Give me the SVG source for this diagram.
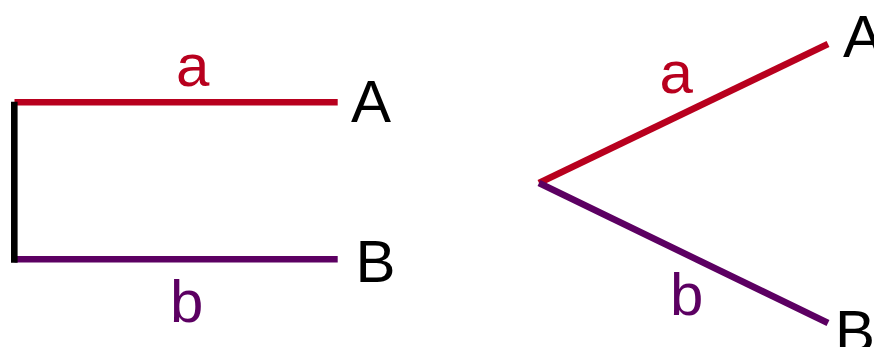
<svg xmlns="http://www.w3.org/2000/svg" width="874" height="347" viewBox="0 0 874 347">
<style>
.t{font-family:"Liberation Sans",Arial,sans-serif;font-size:60px}
.ra{stroke:#b8001e;fill:none;stroke-width:6.6}
.pb{stroke:#5c0062;fill:none;stroke-width:6.6}
.k{stroke:#000;fill:none;stroke-width:6.6}
</style>
<rect width="874" height="347" fill="#fff"/>
<g id="connectors">
<line class="ra" x1="14.5" y1="102.3" x2="337.7" y2="102.3"/>
<line class="pb" x1="14.5" y1="259.2" x2="337.7" y2="259.2"/>
<line class="k" x1="14.3" y1="101.7" x2="14.3" y2="262.7"/>
<line class="ra" x1="539" y1="183" x2="828" y2="44"/>
<line class="pb" x1="539" y1="183" x2="828" y2="323"/>
</g>
<g id="label-a-left"><text class="t" x="176" y="85.5" fill="#b8001e">a</text></g>
<g id="label-b-left"><text class="t" x="170" y="321.7" fill="#5c0062">b</text></g>
<g id="node-A-left"><text class="t" x="351" y="121.7" fill="#000">A</text></g>
<g id="node-B-left"><text class="t" x="355.6" y="281.7" fill="#000">B</text></g>
<g id="label-a-right"><text class="t" x="659.5" y="92.7" fill="#b8001e">a</text></g>
<g id="label-b-right"><text class="t" x="670" y="315" fill="#5c0062">b</text></g>
<g id="node-A-right"><text class="t" x="843" y="56.7" fill="#000">A</text></g>
<g id="node-B-right"><text class="t" x="835" y="352" fill="#000">B</text></g>
</svg>
